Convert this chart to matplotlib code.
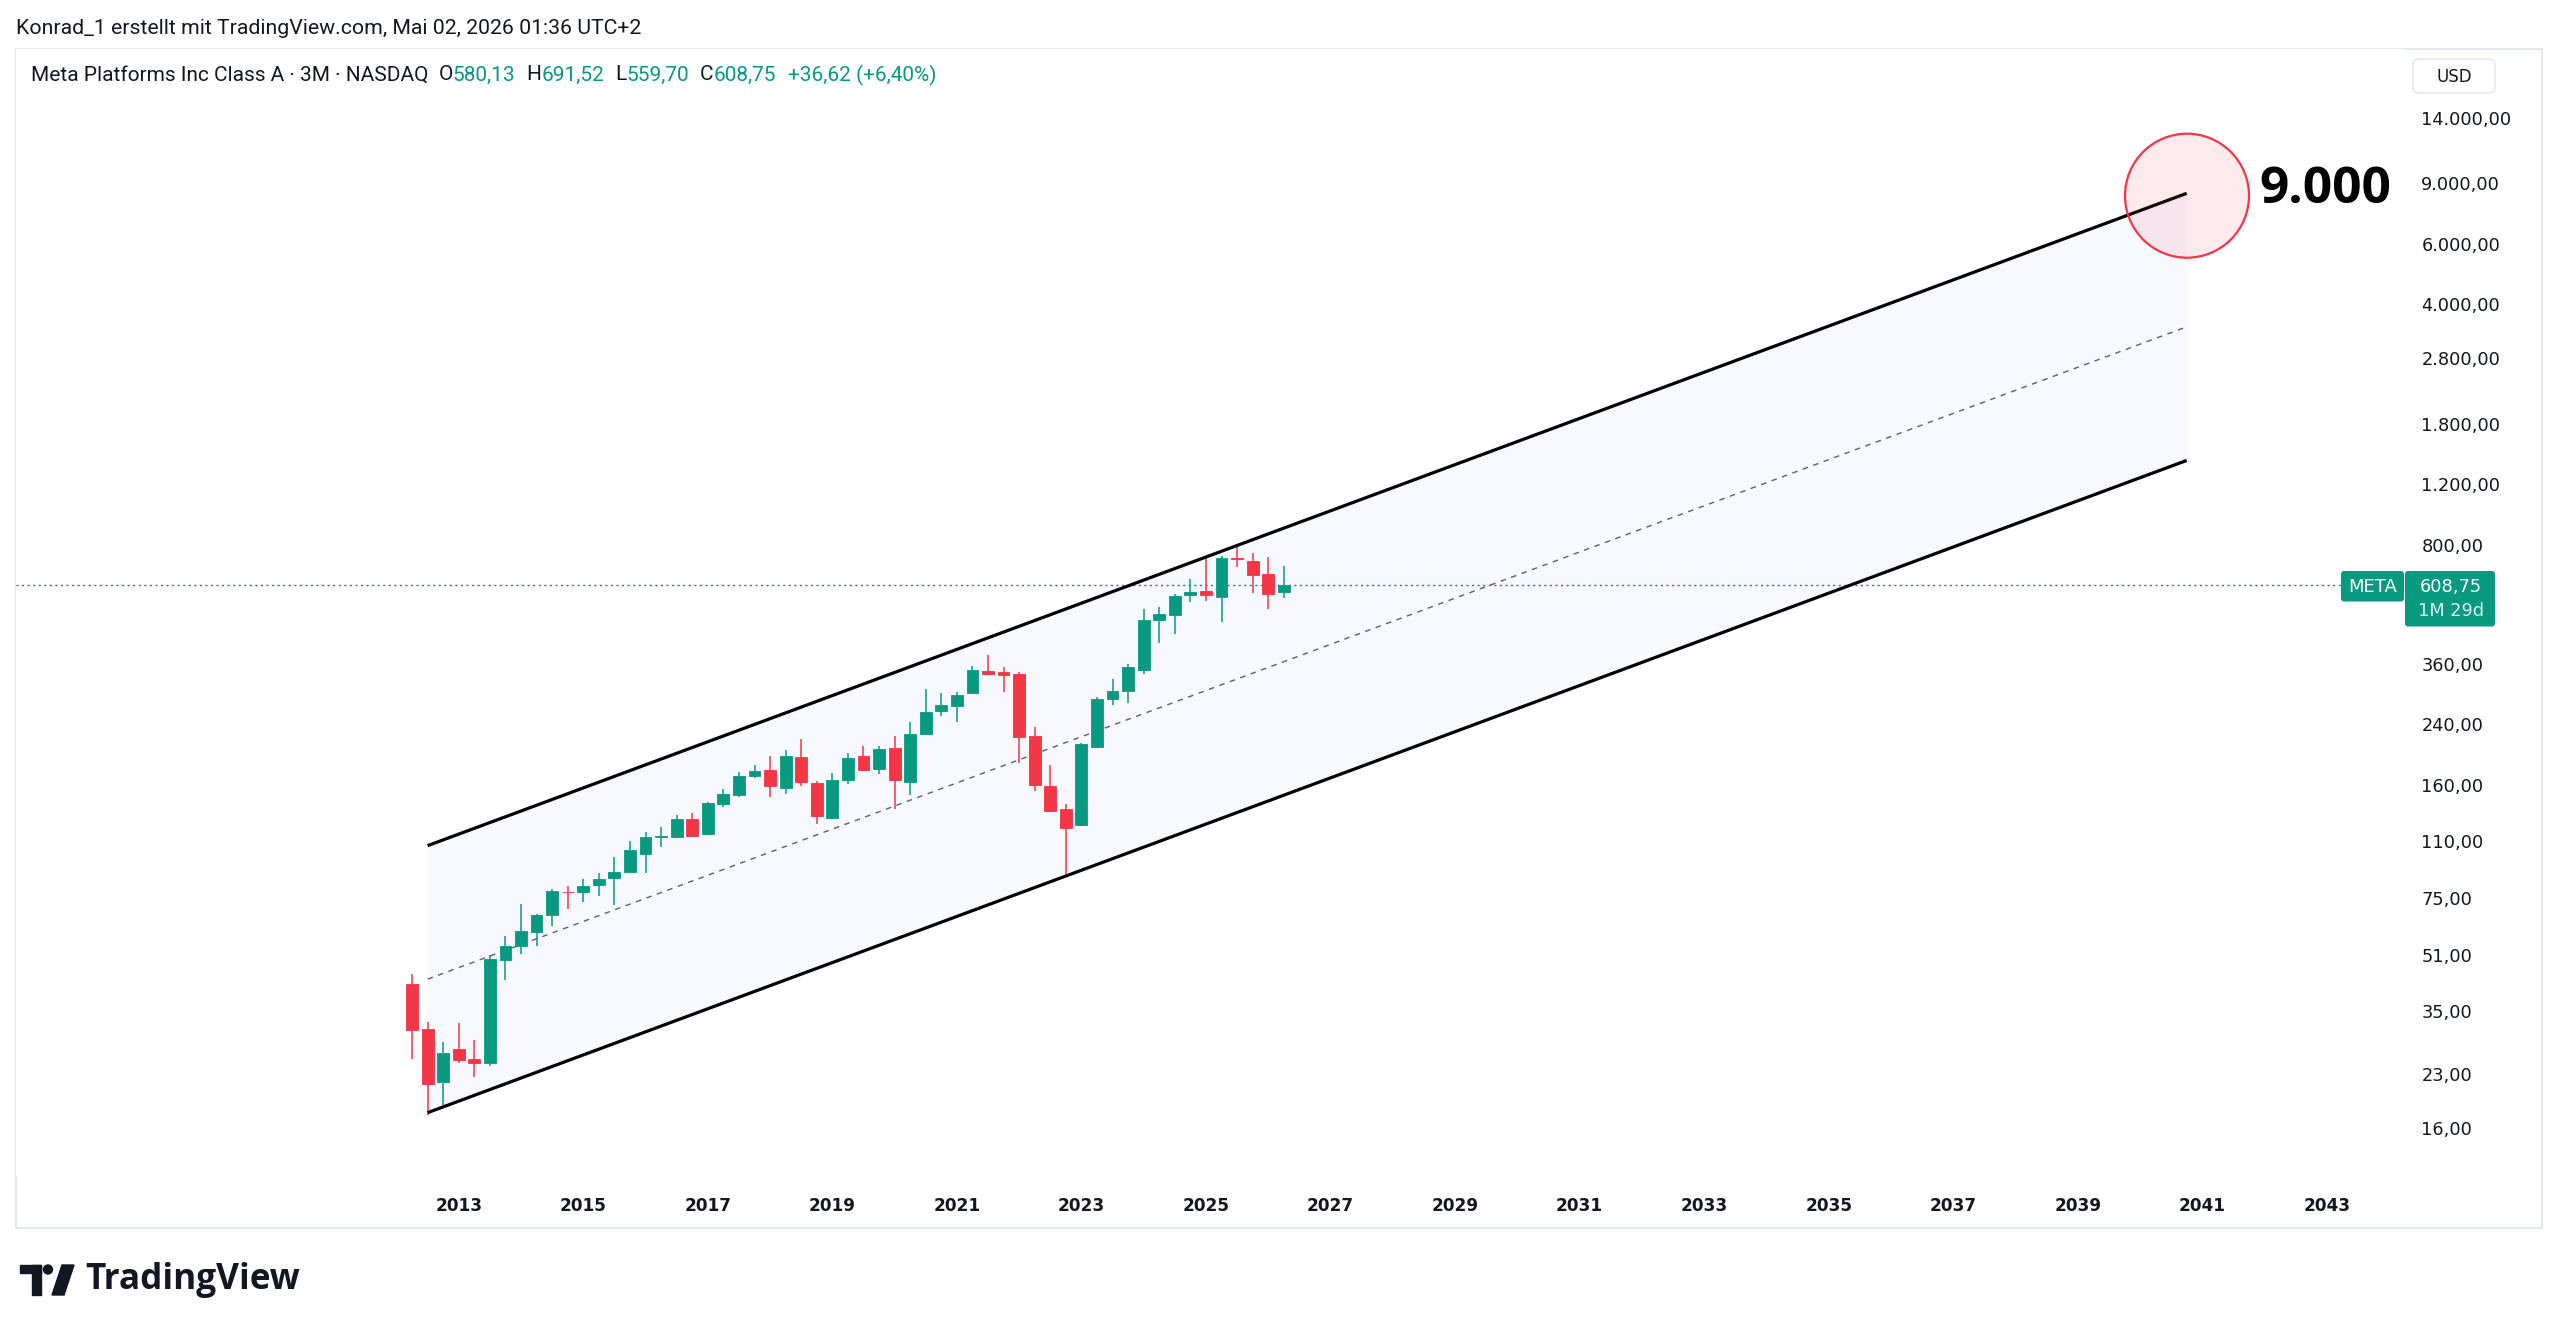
import matplotlib
matplotlib.use("Agg")
import matplotlib.pyplot as plt
from matplotlib.patches import Rectangle, FancyBboxPatch, Circle, Polygon
from matplotlib.transforms import IdentityTransform
from matplotlib.ticker import NullLocator, NullFormatter
import numpy as np

W, H = 2560, 1334
GREEN = '#089981'
RED = '#f23645'
DARK = '#131722'

# ─────────────────────────────────────────────
# Quarterly candles (META, 3M)
# ─────────────────────────────────────────────
quarters = ['2012Q2', '2012Q3', '2012Q4',
            '2013Q1', '2013Q2', '2013Q3', '2013Q4',
            '2014Q1', '2014Q2', '2014Q3', '2014Q4',
            '2015Q1', '2015Q2', '2015Q3', '2015Q4',
            '2016Q1', '2016Q2', '2016Q3', '2016Q4',
            '2017Q1', '2017Q2', '2017Q3', '2017Q4',
            '2018Q1', '2018Q2', '2018Q3', '2018Q4',
            '2019Q1', '2019Q2', '2019Q3', '2019Q4',
            '2020Q1', '2020Q2', '2020Q3', '2020Q4',
            '2021Q1', '2021Q2', '2021Q3', '2021Q4',
            '2022Q1', '2022Q2', '2022Q3', '2022Q4',
            '2023Q1', '2023Q2', '2023Q3', '2023Q4',
            '2024Q1', '2024Q2', '2024Q3', '2024Q4',
            '2025Q1', '2025Q2', '2025Q3', '2025Q4',
            '2026Q1', '2026Q2']
opens = [42.0, 31.0, 21.8,
         27.2, 25.4, 24.8, 49.3,
         54.3, 59.7, 66.7, 78.0,
         77.8, 81.7, 85.8, 88.9,
         100.5, 112.5, 112.9, 127.4,
         114.7, 140.8, 149.1, 169.9,
         176.2, 156.4, 192.2, 161.8,
         128.0, 165.6, 193.5, 177.7,
         205.0, 163.0, 225.0, 262.0,
         271.0, 295.0, 342.0, 340.0,
         335.0, 221.8, 158.8, 135.6,
         121.8, 206.0, 283.6, 299.0,
         345.8, 481.6, 499.0, 569.0,
         587.0, 563.0, 731.0, 718.0,
         656.0, 580.13]
highs = [45.0, 32.7, 28.6,
         32.3, 28.9, 51.0, 58.0,
         71.7, 67.2, 79.4, 81.3,
         85.2, 88.3, 98.3, 109.7,
         116.7, 120.2, 130.9, 132.3,
         142.2, 155.4, 173.9, 182.5,
         193.5, 201.8, 217.4, 164.3,
         172.7, 197.4, 207.4, 207.4,
         222.3, 243.0, 303.0, 295.8,
         298.0, 355.0, 382.0, 352.0,
         341.0, 235.0, 182.5, 141.0,
         212.0, 287.0, 324.0, 359.0,
         520.0, 526.0, 573.0, 634.0,
         738.0, 743.0, 792.0, 755.0,
         736.0, 691.52]
lows = [25.4, 17.5, 18.7,
        24.7, 22.6, 24.2, 43.2,
        51.5, 54.3, 62.0, 69.7,
        73.0, 76.0, 71.4, 88.4,
        88.7, 105.6, 112.0, 112.5,
        114.0, 138.0, 147.0, 167.6,
        147.6, 150.0, 158.4, 122.7,
        127.0, 160.7, 175.0, 172.4,
        135.9, 149.3, 224.0, 253.5,
        243.0, 295.0, 333.0, 297.0,
        184.6, 153.7, 133.0, 87.4,
        121.0, 205.0, 272.0, 277.0,
        337.0, 412.6, 440.0, 546.0,
        549.0, 477.0, 690.0, 577.0,
        518.0, 559.70]
closes = [30.8, 21.5, 26.4,
          25.3, 24.8, 49.7, 54.1,
          59.9, 66.7, 78.4, 77.7,
          81.3, 85.0, 88.9, 103.5,
          112.9, 113.3, 127.4, 113.2,
          141.2, 150.3, 169.6, 175.2,
          158.2, 193.5, 162.5, 129.8,
          164.9, 190.9, 176.2, 203.7,
          164.8, 224.7, 260.4, 272.5,
          292.0, 345.6, 335.0, 334.0,
          220.0, 159.7, 134.4, 119.4,
          210.0, 284.5, 299.0, 352.0,
          482.0, 501.0, 568.0, 581.0,
          569.0, 730.0, 728.0, 651.0,
          572.5, 608.75]

# parallel channel (log scale), drawn from Q3 2012 to Q4 2040
chan_x = [2012.5, 2040.75]
chan_upper = [106.3, 8426.0]
chan_lower = [17.75, 1406.0]

last_price = 608.75
target_label = '9.000'

price_ticks = [14000, 9000, 6000, 4000, 2800, 1800, 1200, 800,
               360, 240, 160, 110, 75, 51, 35, 23, 16]
year_ticks = [2013, 2015, 2017, 2019, 2021, 2023, 2025, 2027,
              2029, 2031, 2033, 2035, 2037, 2039, 2041, 2043]


def de_num(v):
    """German number format: 14.000,00"""
    return f'{v:,.2f}'.replace(',', 'X').replace('.', ',').replace('X', '.')


def px(x, y):
    """image pixel (top-left origin) -> display coords"""
    return x, H - y


# ─────────────────────────────────────────────
# Figure / axes
# ─────────────────────────────────────────────
fig = plt.figure(figsize=(W / 100, H / 100), dpi=100)
fig.patch.set_facecolor('white')
ax = fig.add_axes([16 / W, 1 - 1176 / H, (2404 - 16) / W, (1176 - 49) / H])
ax.set_facecolor('white')
ax.set_yscale('log')
ax.set_xlim(2005.89, 2044.24)
ax.set_ylim(11.61, 22170)

# channel
ax.fill_between(chan_x, chan_lower, chan_upper, color='#2962ff', alpha=0.035,
                lw=0, zorder=1)
mid = np.sqrt(np.array(chan_upper) * np.array(chan_lower))
ax.plot(chan_x, mid, color='#5d606b', lw=1.0, ls=(0, (4, 4)), zorder=2)
ax.plot(chan_x, chan_upper, color='black', lw=2.3, zorder=5,
        solid_capstyle='butt')
ax.plot(chan_x, chan_lower, color='black', lw=2.3, zorder=5,
        solid_capstyle='butt')

# last price line
ax.axhline(last_price, color='#2962ff', lw=1.0, ls=(0, (1.5, 2.5)), zorder=2)

# candles
xq = np.array([int(q[:4]) + (int(q[-1]) - 1) / 4 for q in quarters])
o = np.array(opens)
hi = np.array(highs)
lo = np.array(lows)
c = np.array(closes)
cols = np.where(c >= o, GREEN, RED)
ax.vlines(xq, lo, hi, colors=cols, lw=1.1, zorder=3)
ax.bar(xq, np.maximum(np.abs(c - o), np.minimum(o, c) * 0.006),
       bottom=np.minimum(o, c), width=0.19, color=cols, edgecolor=cols,
       lw=0.6, zorder=4)

# axes styling
for s in ax.spines.values():
    s.set_visible(False)
ax.yaxis.tick_right()
ax.set_yticks(price_ticks)
ax.set_yticklabels([de_num(v) for v in price_ticks])
ax.yaxis.set_minor_locator(NullLocator())
ax.yaxis.set_minor_formatter(NullFormatter())
ax.tick_params(axis='y', length=0, pad=12.5, labelsize=12.8, labelcolor=DARK)
ax.set_xticks(year_ticks)
ax.set_xticklabels([str(y) for y in year_ticks], fontweight='bold')
ax.tick_params(axis='x', length=0, pad=15, labelsize=12.2, labelcolor=DARK)

T = IdentityTransform()

# pane border
fig.add_artist(Rectangle(px(16, 1228), 2542 - 16, 1228 - 49, transform=T,
                         fill=False, edgecolor='#e0e3eb', lw=1.2, zorder=0))

# target circle + label
fig.add_artist(Circle(px(2187, 195.7), 62, transform=T,
                      facecolor=(242 / 255, 54 / 255, 69 / 255, 0.1),
                      edgecolor=RED, lw=1.6, zorder=6))
fig.text(*px(2259, 190), target_label, transform=T, fontsize=37,
         fontweight='bold', family='Open Sans', color='black',
         ha='left', va='center')

# USD box
fig.add_artist(FancyBboxPatch(px(2413, 93), 82, 34, transform=T,
                              boxstyle='round,pad=0,rounding_size=6',
                              facecolor='white', edgecolor='#e0e3eb', lw=1))
fig.text(*px(2454, 77), 'USD', transform=T, fontsize=12, color=DARK,
         ha='center', va='center')

# META + price label
fig.add_artist(FancyBboxPatch(px(2341, 601.5), 63, 30.5, transform=T,
                              boxstyle='round,pad=0,rounding_size=3',
                              facecolor=GREEN, edgecolor=GREEN, lw=0, zorder=6))
fig.add_artist(FancyBboxPatch(px(2405, 626.5), 90, 55.5, transform=T,
                              boxstyle='round,pad=0,rounding_size=3',
                              facecolor=GREEN, edgecolor=GREEN, lw=0, zorder=6))
fig.text(*px(2372.5, 587), 'META', transform=T, fontsize=13, color='white',
         ha='center', va='center', zorder=7)
fig.text(*px(2451, 586.5), de_num(last_price), transform=T, fontsize=12.8,
         color='white', ha='center', va='center', zorder=7)
fig.text(*px(2451, 611.5), '1M 29d', transform=T, fontsize=12.8,
         color='#d8f0ec', ha='center', va='center', zorder=7)

# header lines
fig.text(*px(16, 28), 'Konrad_1 erstellt mit TradingView.com, Mai 02, 2026 01:36 UTC+2',
         transform=T, fontsize=15.3, family='Roboto', color=DARK,
         ha='left', va='center')

renderer = fig.canvas.get_renderer()
pieces = [('Meta Platforms Inc Class A · 3M · NASDAQ', DARK, 10),
          ('O', DARK, 0), ('580,13', GREEN, 11),
          ('H', DARK, 0), ('691,52', GREEN, 11),
          ('L', DARK, 0), ('559,70', GREEN, 11),
          ('C', DARK, 0), ('608,75', GREEN, 12),
          ('+36,62 (+6,40%)', GREEN, 0)]
xcur = 31
for s, col, gap in pieces:
    t = fig.text(*px(xcur, 75), s, transform=T, fontsize=15, family='Roboto',
                 color=col, ha='left', va='center')
    xcur = t.get_window_extent(renderer).x1 + gap

# TradingView logo
fig.add_artist(Rectangle(px(20, 1273), 21, 8, transform=T, color='#131722'))
fig.add_artist(Rectangle(px(32, 1295), 9, 30, transform=T, color='#131722'))
fig.add_artist(Circle(px(48, 1269.5), 4.5, transform=T, color='#131722'))
fig.add_artist(Polygon([px(52, 1295), px(62, 1265), px(74, 1265), px(64, 1295)],
                       closed=True, transform=T, color='#131722'))
fig.text(*px(85, 1280), 'TradingView', transform=T, fontsize=25.3,
         family='Open Sans', fontweight='bold', color='#131722',
         ha='left', va='center')

fig.savefig('out.png', dpi=100, facecolor='white')
